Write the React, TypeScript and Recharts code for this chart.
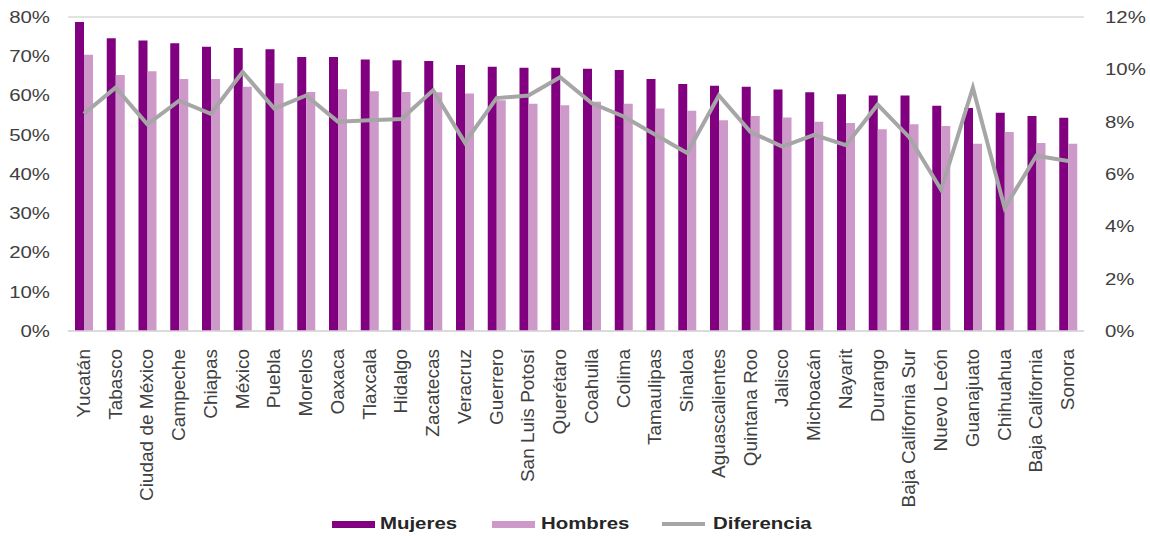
import { Bar, CartesianGrid, ComposedChart, Line, XAxis, YAxis } from 'recharts';

const estados = [
  'Yucatán', 'Tabasco', 'Ciudad de México', 'Campeche', 'Chiapas', 'México', 'Puebla', 'Morelos',
  'Oaxaca', 'Tlaxcala', 'Hidalgo', 'Zacatecas', 'Veracruz', 'Guerrero', 'San Luis Potosí', 'Querétaro',
  'Coahuila', 'Colima', 'Tamaulipas', 'Sinaloa', 'Aguascalientes', 'Quintana Roo', 'Jalisco', 'Michoacán',
  'Nayarit', 'Durango', 'Baja California Sur', 'Nuevo León', 'Guanajuato', 'Chihuahua', 'Baja California', 'Sonora',
];

const mujeres = [
  78.7, 74.6, 74.0, 73.3, 72.4, 72.1, 71.8, 69.8,
  69.8, 69.2, 69.0, 68.8, 67.8, 67.3, 67.1, 67.1,
  66.8, 66.5, 64.2, 62.9, 62.5, 62.2, 61.5, 60.8,
  60.3, 60.0, 60.0, 57.4, 56.8, 55.6, 54.8, 54.3,
];

const hombres = [
  70.4, 65.2, 66.2, 64.2, 64.2, 62.2, 63.1, 60.9,
  61.6, 61.1, 60.9, 60.8, 60.5, 58.8, 57.9, 57.5,
  58.4, 57.9, 56.7, 56.1, 53.7, 54.8, 54.4, 53.3,
  53.0, 51.4, 52.7, 52.2, 47.7, 50.7, 47.9, 47.7,
];

const diferencia = [
  8.3, 9.3, 7.9, 8.8, 8.3, 9.9, 8.5, 9.0,
  8.0, 8.05, 8.1, 9.2, 7.2, 8.9, 9.0, 9.7,
  8.7, 8.2, 7.5, 6.8, 9.0, 7.6, 7.05, 7.5,
  7.1, 8.65, 7.4, 5.4, 9.3, 4.7, 6.7, 6.5,
];

const leftTicks = [0, 10, 20, 30, 40, 50, 60, 70, 80];
const rightTicks = [0, 2, 4, 6, 8, 10, 12];

const data = estados.map((estado, i) => ({
  estado,
  mujeres: mujeres[i],
  hombres: hombres[i],
  diferencia: diferencia[i],
}));

const textColor = '#404040';
const font = '"Liberation Sans", Arial, sans-serif';

function LeftTick({ x, y, payload }: any) {
  const tx = x - 10;
  return (
    <text
      x={tx}
      y={y}
      textAnchor="end"
      dominantBaseline="central"
      fontSize={17}
      fontFamily={font}
      fill={textColor}
      transform={`translate(${tx},0) scale(1.2,1) translate(${-tx},0)`}
    >
      {payload.value}%
    </text>
  );
}

function RightTick({ x, y, payload }: any) {
  const tx = x + 13;
  return (
    <text
      x={tx}
      y={y}
      textAnchor="start"
      dominantBaseline="central"
      fontSize={17}
      fontFamily={font}
      fill={textColor}
      transform={`translate(${tx},0) scale(1.2,1) translate(${-tx},0)`}
    >
      {payload.value}%
    </text>
  );
}

function CategoryTick({ x, y, payload }: any) {
  const ty = y + 10;
  return (
    <text
      x={x + 6}
      y={ty}
      textAnchor="end"
      fontSize={19}
      fontFamily={font}
      fill={textColor}
      transform={`rotate(-90, ${x + 6}, ${ty})`}
    >
      {payload.value}
    </text>
  );
}

const legendItems = [
  { label: 'Mujeres', color: '#800080', swatchX: 332, textX: 380, thick: 7 },
  { label: 'Hombres', color: '#CC99C9', swatchX: 492, textX: 541, thick: 7 },
  { label: 'Diferencia', color: '#A6A6A6', swatchX: 662, textX: 713, thick: 4 },
];

export default function App() {
  return (
    <div style={{ position: 'absolute', left: 0, top: 0, width: 1150, height: 536, background: '#fff' }}>
      <ComposedChart
        width={1150}
        height={536}
        data={data}
        margin={{ top: 17, right: 0, bottom: 0, left: 0 }}
        barSize={9}
        barGap={0}
      >
        <CartesianGrid vertical={false} stroke="#D9D9D9" strokeWidth={1.5} />
        <XAxis
          dataKey="estado"
          interval={0}
          height={205}
          tickLine={false}
          axisLine={{ stroke: '#D9D9D9', strokeWidth: 1.5 }}
          tick={<CategoryTick />}
        />
        <YAxis
          yAxisId="left"
          width={68}
          domain={[0, 80]}
          ticks={leftTicks}
          tickLine={false}
          axisLine={false}
          tick={<LeftTick />}
        />
        <YAxis
          yAxisId="right"
          orientation="right"
          width={66}
          domain={[0, 12]}
          ticks={rightTicks}
          tickLine={false}
          axisLine={false}
          tick={<RightTick />}
        />
        <Bar yAxisId="left" dataKey="mujeres" fill="#800080" isAnimationActive={false} />
        <Bar yAxisId="left" dataKey="hombres" fill="#CC99C9" isAnimationActive={false} />
        <Line
          yAxisId="right"
          type="linear"
          dataKey="diferencia"
          stroke="#A6A6A6"
          strokeWidth={4}
          dot={false}
          isAnimationActive={false}
        />
      </ComposedChart>
      {legendItems.map((item) => (
        <div key={item.label}>
          <div
            style={{
              position: 'absolute',
              left: item.swatchX,
              top: 524 - item.thick / 2,
              width: 43,
              height: item.thick,
              background: item.color,
            }}
          />
          <div
            style={{
              position: 'absolute',
              left: item.textX,
              top: 513,
              fontFamily: font,
              fontWeight: 'bold',
              fontSize: 17,
              lineHeight: '22px',
              color: '#262626',
              transform: 'scaleX(1.2)',
              transformOrigin: 'left center',
              whiteSpace: 'nowrap',
            }}
          >
            {item.label}
          </div>
        </div>
      ))}
    </div>
  );
}
